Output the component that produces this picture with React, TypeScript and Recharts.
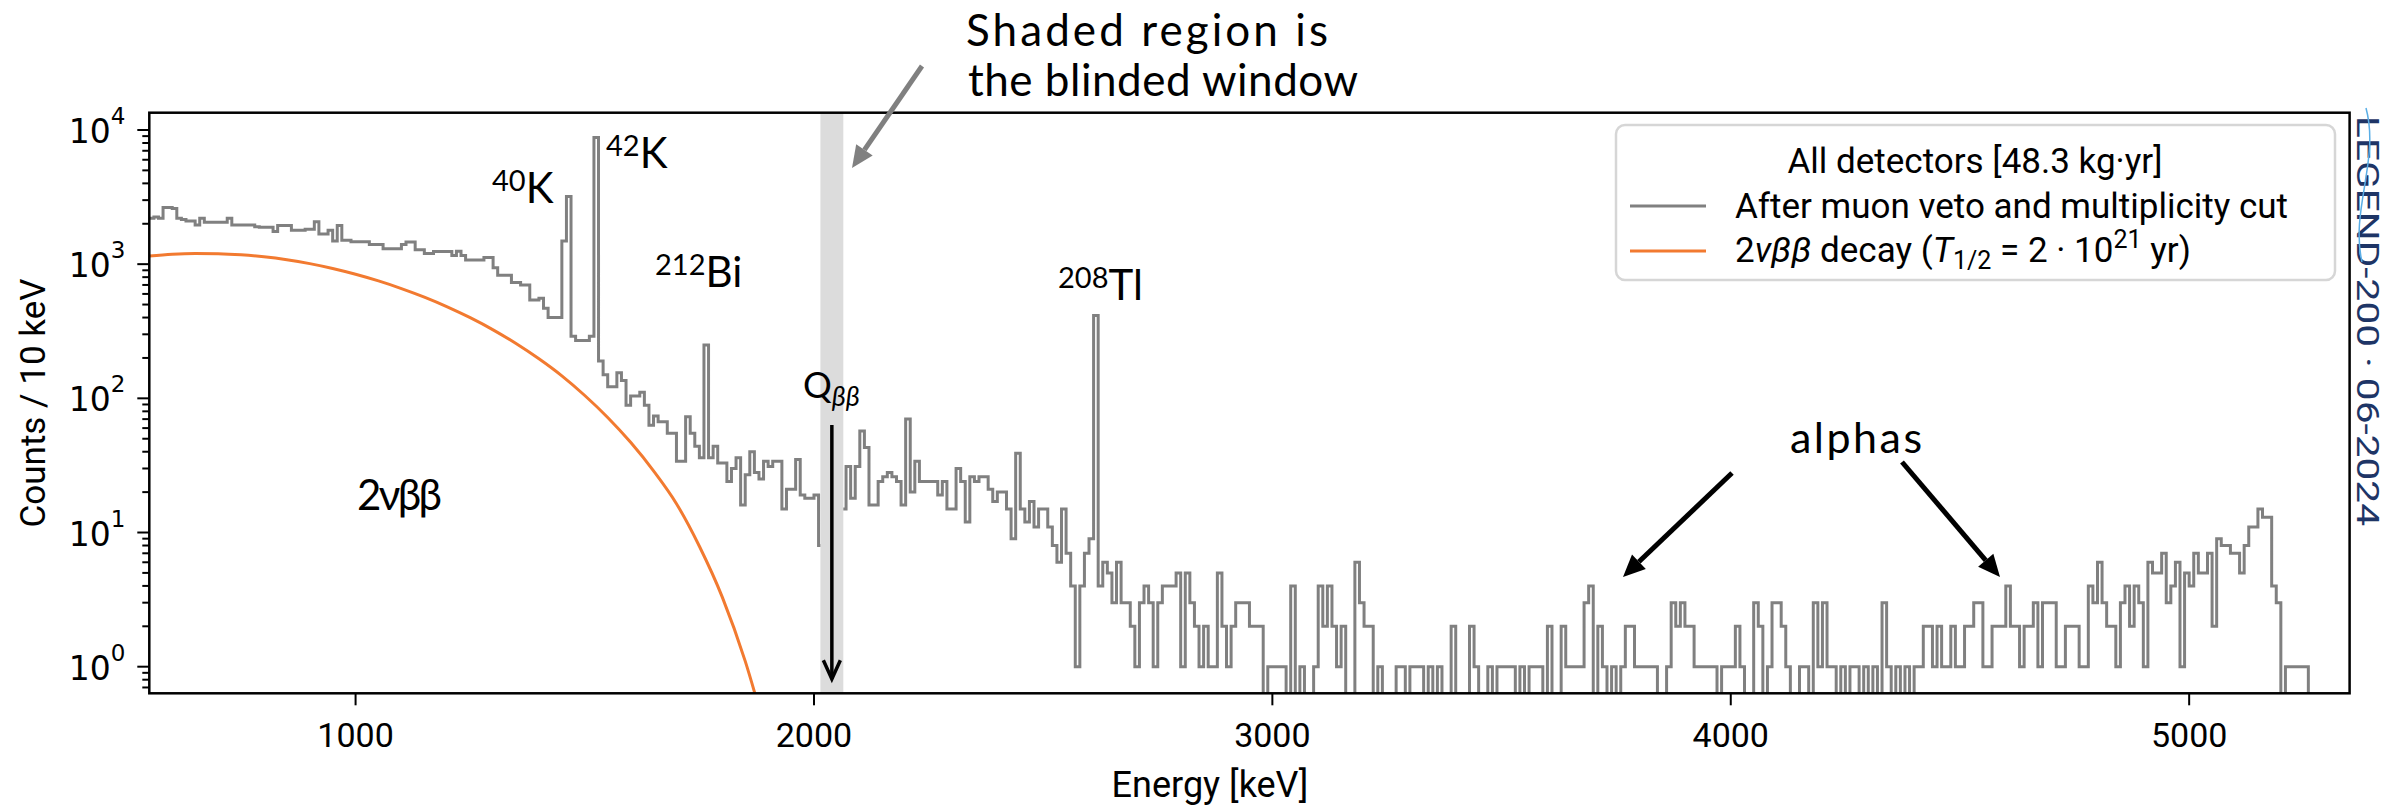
import React from "react";
import { LineChart, Line, XAxis, YAxis, ReferenceArea } from "recharts";

// counts per 10 keV bin, first block starts at 550 keV and runs up to the blinded window
const belowStart = 550;
const countsBelow = [
  2200, 2250, 2200, 2640, 2640, 2600, 2200, 2150, 2100, 2100,
  1960, 2200, 2050, 2050, 2050, 2050, 2050, 2200, 1960, 1960,
  1960, 1960, 1960, 1900, 1880, 1880, 1880, 1750, 1940, 1940,
  1940, 1790, 1790, 1790, 1820, 1820, 2070, 1680, 1680, 1790,
  1490, 1940, 1510, 1510, 1470, 1470, 1470, 1470, 1400, 1400,
  1400, 1300, 1300, 1300, 1300, 1400, 1460, 1460, 1280, 1280,
  1200, 1200, 1240, 1240, 1240, 1240, 1160, 1250, 1160, 1075,
  1075, 1075, 1075, 1120, 1120, 940, 826, 826, 826, 730,
  730, 700, 700, 540, 540, 557, 470, 400, 400, 400,
  1490, 3200, 290, 270, 270, 270, 290, 8800, 190, 150,
  122, 122, 155, 136, 89, 104, 104, 111, 89, 63,
  74, 67, 67, 55, 55, 34, 34, 73, 55, 44,
  36, 250, 36, 44, 33, 33, 24, 30, 36, 16,
  27, 40, 28, 25, 34, 31, 34, 34, 15, 21,
  21, 35, 19, 18, 18, 19, 8,
];

// second block starts with the 2060 keV bin (only 2064-2070 is open)
const aboveStart = 2060;
const countsAbove = [
  15, 31, 18, 31, 57, 43, 16, 16, 24, 26,
  28, 26, 24, 16, 70, 20, 34, 24, 24, 24,
  24, 19, 24, 15, 15, 30, 24, 12, 26, 24,
  26, 26, 21, 17, 20, 20, 15, 9, 39, 15,
  12, 17, 11, 15, 15, 11, 8, 6, 15, 7,
  4, 1, 4, 7, 9, 414, 4, 6, 5, 3,
  6, 3, 3, 2, 1, 3, 4, 3, 1, 3,
  4, 4, 4, 5, 1, 5, 3, 2, 1, 2,
  1, 1, 5, 2, 1, 2, 3, 3, 3, 2,
  2, 2, 0, 1, 1, 1, 1, 0, 4, 0,
  1, 0, 0, 1, 4, 2, 4, 2, 1, 2,
  0, 0, 6, 3, 2, 2, 0, 1, 0, 0,
  0, 1, 1, 0, 1, 1, 1, 0, 1, 0,
  1, 0, 0, 2, 0, 0, 0, 2, 1, 0,
  0, 1, 0, 1, 1, 1, 1, 0, 1, 0,
  1, 1, 1, 0, 2, 0, 0, 2, 1, 1,
  1, 1, 3, 4, 0, 2, 1, 0, 1, 0,
  1, 2, 2, 1, 1, 1, 1, 1, 0, 0,
  1, 3, 2, 3, 2, 2, 1, 1, 1, 1,
  1, 0, 1, 1, 1, 2, 1, 0, 0, 3,
  2, 0, 1, 3, 3, 2, 1, 0, 0, 1,
  1, 0, 3, 1, 3, 1, 1, 0, 1, 0,
  1, 1, 0, 1, 0, 1, 0, 3, 1, 0,
  1, 0, 1, 0, 1, 1, 2, 2, 1, 2,
  1, 1, 2, 1, 1, 2, 2, 3, 3, 1,
  1, 2, 2, 2, 4, 2, 2, 1, 2, 2,
  3, 1, 3, 3, 3, 1, 1, 2, 2, 2,
  1, 1, 4, 3, 6, 3, 2, 2, 1, 3,
  4, 2, 4, 3, 1, 6, 5, 5, 7, 3,
  4, 6, 1, 5, 4, 7, 5, 5, 7, 2,
  9, 8, 8, 7, 7, 5, 8, 11, 11, 15,
  13, 13, 4, 3, 0, 1, 1, 1, 1, 1,
];
const lastEdge = 5260;
const blindLow = 2014;
const blindHigh = 2064;
const qbb = 2039;

// 2vbb model curve
const twoNuEnergy = [
  550, 600, 650, 700, 750, 800, 850, 900, 950, 1000, 1050, 1100, 1150, 1200,
  1250, 1300, 1350, 1400, 1450, 1500, 1550, 1600, 1650, 1700, 1750, 1800, 1850, 1900,
];
const twoNuCounts = [
  1148, 1186, 1202, 1197, 1175, 1135, 1079, 1009, 929, 841, 750, 658, 568, 481,
  399, 324, 256, 197, 147, 105, 72, 47, 28.8, 16.4, 7.9, 3.3, 1.1, 0.28,
];

const xTicks = [1000, 2000, 3000, 4000, 5000];
const yTicks = [
  0.7, 0.8, 0.9,
  1, 2, 3, 4, 5, 6, 7, 8, 9,
  10, 20, 30, 40, 50, 60, 70, 80, 90,
  100, 200, 300, 400, 500, 600, 700, 800, 900,
  1000, 2000, 3000, 4000, 5000, 6000, 7000, 8000, 9000,
  10000,
];

const W = 2399;
const H = 807;
const PLOT = { left: 149.3, top: 112.7, right: 2349.6, bottom: 693.3 };
const E_MIN = 550;
const E_MAX = 5350;
const Y_MIN = 0.6334;
const Y_MAX = 13452;
const FLOOR = 0.05; // empty bins, falls under the axis and is clipped

const px = (e: number) => PLOT.left + ((e - E_MIN) / (E_MAX - E_MIN)) * (PLOT.right - PLOT.left);

const lift = (c: number) => (c > 0 ? c : FLOOR);

const histData: { e: number; c: number | null }[] = [];
countsBelow.forEach((c, i) => histData.push({ e: belowStart + 10 * i, c: lift(c) }));
histData.push({ e: blindLow, c: lift(countsBelow[countsBelow.length - 1]) });
histData.push({ e: qbb, c: null });
countsAbove.forEach((c, i) =>
  histData.push({ e: i === 0 ? blindHigh : aboveStart + 10 * i, c: lift(c) })
);
histData.push({ e: lastEdge, c: FLOOR });

const curveData = twoNuEnergy.map((e, i) => ({ e, c: twoNuCounts[i] }));

const YTick = (props: any) => {
  const { y, payload } = props;
  const v = payload.value;
  const lg = Math.log10(v);
  const exp = Math.round(lg);
  const major = Math.abs(lg - exp) < 1e-6;
  return (
    <g>
      <line x1={PLOT.left - (major ? 12 : 7)} x2={PLOT.left} y1={y} y2={y} stroke="#000" strokeWidth={2} />
      {major && (
        <text x={PLOT.left - 24} y={y + 13} textAnchor="end" fontFamily="DejaVu Sans" fontSize={33} fill="#000">
          10
          <tspan dy={-19} fontSize={23}>
            {exp}
          </tspan>
        </text>
      )}
    </g>
  );
};

const XTick = (props: any) => {
  const { x, payload } = props;
  return (
    <g>
      <line x1={x} x2={x} y1={PLOT.bottom} y2={PLOT.bottom + 12} stroke="#000" strokeWidth={2} />
      <text x={x} y={747} textAnchor="middle" fontFamily="Roboto" fontSize={34} fill="#000">
        {payload.value}
      </text>
    </g>
  );
};

const Arrow = ({ x1, y1, x2, y2, color, width, head, open }: any) => {
  const ang = Math.atan2(y2 - y1, x2 - x1);
  const hl = head * 1.1;
  const hw = head * 0.5;
  const bx = x2 - hl * Math.cos(ang);
  const by = y2 - hl * Math.sin(ang);
  const ox = -Math.sin(ang) * hw;
  const oy = Math.cos(ang) * hw;
  if (open) {
    return (
      <g>
        <line x1={x1} y1={y1} x2={x2} y2={y2} stroke={color} strokeWidth={width} />
        <polyline
          points={`${bx + ox},${by + oy} ${x2},${y2} ${bx - ox},${by - oy}`}
          fill="none"
          stroke={color}
          strokeWidth={width}
        />
      </g>
    );
  }
  return (
    <g>
      <line x1={x1} y1={y1} x2={bx} y2={by} stroke={color} strokeWidth={width} />
      <polygon points={`${x2},${y2} ${bx + ox},${by + oy} ${bx - ox},${by - oy}`} fill={color} />
    </g>
  );
};

const ann = { fontFamily: "Lato", fill: "#000" };

export default function App() {
  return (
    <div style={{ position: "absolute", left: 0, top: 0, width: W, height: H, background: "#fff" }}>
      <LineChart
        width={W}
        height={H}
        margin={{ top: PLOT.top, right: W - PLOT.right, bottom: H - PLOT.bottom - 60, left: PLOT.left - 140 }}
      >
        <XAxis
          dataKey="e"
          type="number"
          domain={[E_MIN, E_MAX]}
          allowDataOverflow
          ticks={xTicks}
          interval={0}
          tick={<XTick />}
          tickLine={false}
          axisLine={false}
          height={60}
        />
        <YAxis
          type="number"
          scale="log"
          domain={[Y_MIN, Y_MAX]}
          allowDataOverflow
          ticks={yTicks}
          interval={0}
          tick={<YTick />}
          tickLine={false}
          axisLine={false}
          width={140}
        />
        <ReferenceArea x1={blindLow} x2={blindHigh} y1={Y_MIN} y2={Y_MAX} fill="#dcdcdc" fillOpacity={1} stroke="none" />
        <Line
          data={curveData}
          dataKey="c"
          type="monotone"
          stroke="#f27a30"
          strokeWidth={3}
          dot={false}
          isAnimationActive={false}
        />
        <Line
          data={histData}
          dataKey="c"
          type="stepAfter"
          stroke="#808080"
          strokeWidth={3}
          dot={false}
          connectNulls={false}
          isAnimationActive={false}
        />
      </LineChart>

      <svg width={W} height={H} style={{ position: "absolute", left: 0, top: 0, pointerEvents: "none" }}>
        <rect
          x={PLOT.left}
          y={PLOT.top}
          width={PLOT.right - PLOT.left}
          height={PLOT.bottom - PLOT.top}
          fill="none"
          stroke="#000"
          strokeWidth={2.5}
        />

        {/* axis titles */}
        <text x={1210} y={797} textAnchor="middle" fontFamily="Roboto" fontSize={36}>
          Energy [keV]
        </text>
        <text
          transform={`translate(45, ${(PLOT.top + PLOT.bottom) / 2}) rotate(-90)`}
          textAnchor="middle"
          fontFamily="Roboto"
          fontSize={35}
        >
          Counts / 10 keV
        </text>

        {/* legend */}
        <rect x={1616} y={125} width={719} height={155} rx={9} fill="#fff" fillOpacity={0.8} stroke="#d6d6d6" strokeWidth={2.5} />
        <text x={1975} y={173} textAnchor="middle" fontFamily="Roboto" fontSize={35}>
          All detectors [48.3 kg·yr]
        </text>
        <line x1={1630} x2={1706} y1={206} y2={206} stroke="#808080" strokeWidth={3} />
        <text x={1735} y={218} fontFamily="Roboto" fontSize={35}>
          After muon veto and multiplicity cut
        </text>
        <line x1={1630} x2={1706} y1={251} y2={251} stroke="#f27a30" strokeWidth={3} />
        <text x={1735} y={262} fontFamily="Roboto" fontSize={35}>
          2<tspan fontStyle="italic">νββ</tspan> decay (<tspan fontStyle="italic">T</tspan>
          <tspan dy={7} fontSize={25}>1/2</tspan>
          <tspan dy={-7}> = 2 · 10</tspan>
          <tspan dy={-14} fontSize={25}>21</tspan>
          <tspan dy={14}> yr)</tspan>
        </text>

        {/* watermark */}
        <g transform="translate(2357, 116) rotate(90)">
          <text x={0} y={0} fontFamily="Roboto" fontSize={31} fill="#1e3566" textLength={410} lengthAdjust="spacingAndGlyphs">
            LEGEND-200 · 06-2024
          </text>
        </g>
        <path d="M 2366 108 C 2380 160, 2350 210, 2362 262" fill="none" stroke="#5aaee6" strokeWidth={1.5} />

        {/* blinded window note */}
        <text x={966} y={46} {...ann} fontSize={44} textLength={362} lengthAdjust="spacing">
          Shaded region is
        </text>
        <text x={968} y={96} {...ann} fontSize={44} textLength={390} lengthAdjust="spacing">
          the blinded window
        </text>
        <Arrow x1={922} y1={66} x2={852} y2={168} color="#808080" width={5} head={20} />

        {/* line labels */}
        <text x={492} y={203} {...ann} fontSize={42}>
          <tspan fontSize={29} dy={-12}>40</tspan>
          <tspan dy={12}>K</tspan>
        </text>
        <text x={606} y={168} {...ann} fontSize={42}>
          <tspan fontSize={29} dy={-12}>42</tspan>
          <tspan dy={12}>K</tspan>
        </text>
        <text x={655} y={287} {...ann} fontSize={42}>
          <tspan fontSize={29} dy={-12}>212</tspan>
          <tspan dy={12}>Bi</tspan>
        </text>
        <text x={1058} y={300} {...ann} fontSize={42}>
          <tspan fontSize={29} dy={-12}>208</tspan>
          <tspan dy={12}>Tl</tspan>
        </text>
        <text x={357} y={510} {...ann} fontSize={42} textLength={85} lengthAdjust="spacing">
          2νββ
        </text>

        {/* Q_bb marker */}
        <text x={803} y={398} {...ann} fontSize={36}>
          Q
          <tspan dy={8} fontSize={27} fontStyle="italic">ββ</tspan>
        </text>
        <Arrow x1={px(qbb)} y1={425} x2={px(qbb)} y2={679} color="#000" width={3.5} head={17} open />

        {/* alphas */}
        <text x={1790} y={453} {...ann} fontSize={43} textLength={132} lengthAdjust="spacing">
          alphas
        </text>
        <Arrow x1={1732} y1={473} x2={1623} y2={577} color="#000" width={5} head={20} />
        <Arrow x1={1902} y1={462} x2={2000} y2={577} color="#000" width={5} head={20} />
      </svg>
    </div>
  );
}
